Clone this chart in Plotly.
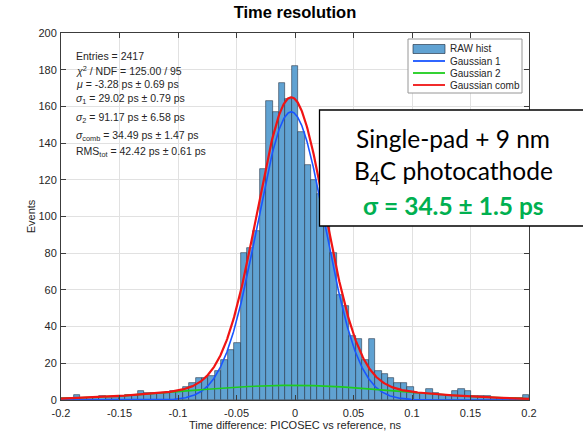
import numpy as np
import plotly.graph_objects as go

# ---------------- data ----------------
bin_lo, bin_hi = -0.2, 0.2
counts = [1, 1, 3, 1, 1, 1, 2, 1, 1, 2, 3, 3, 5, 4, 4, 4, 4, 5, 5, 7, 9,
          12, 12, 13, 16, 22, 27, 31, 80, 83, 92, 126, 163, 157, 173, 164,
          182,
          146, 128, 120, 112, 100, 80, 57, 51, 35, 33, 22, 33, 16, 14, 12, 9,
          9, 7, 4, 4, 6, 4, 3, 3, 5, 6, 5, 2, 2, 2, 1, 1, 1, 1, 1, 3]

# fit parameters (ns) read from the stats box / curve peaks
mu = -0.00328
sigma1 = 0.02902
sigma2 = 0.09117
amp1 = 157.0
amp2 = 8.0

x_tickvals = [-0.2, -0.15, -0.1, -0.05, 0, 0.05, 0.1, 0.15, 0.2]
x_ticktext = ["-0.2", "-0.15", "-0.1", "-0.05", "0", "0.05", "0.1", "0.15", "0.2"]
y_tickvals = [0, 20, 40, 60, 80, 100, 120, 140, 160, 180, 200]

stats_lines = [
    "Entries = 2417",
    "<i>χ</i><sup>2</sup> / NDF = 125.00 / 95",
    "<i>μ</i> = -3.28 ps ± 0.69 ps",
    "<i>σ</i><sub>1</sub> = 29.02 ps ± 0.79 ps",
    "<i>σ</i><sub>2</sub> = 91.17 ps ± 6.58 ps",
    "<i>σ</i><sub>comb</sub> = 34.49 ps ± 1.47 ps",
    "RMS<sub>tot</sub> = 42.42 ps ± 0.61 ps",
]
legend_names = ["RAW hist", "Gaussian 1", "Gaussian 2", "Gaussian comb"]
box_lines = ["Single-pad + 9 nm", "B<sub>4</sub>C photocathode", "<b>σ = 34.5 ± 1.5 ps</b>"]

# ---------------- derived ----------------
n_bins = len(counts)
edges = np.linspace(bin_lo, bin_hi, n_bins + 1)
centers = 0.5 * (edges[:-1] + edges[1:])
bin_width = (bin_hi - bin_lo) / n_bins

x_fit = np.linspace(bin_lo, bin_hi, 801)
g1 = amp1 * np.exp(-0.5 * ((x_fit - mu) / sigma1) ** 2)
g2 = amp2 * np.exp(-0.5 * ((x_fit - mu) / sigma2) ** 2)
gc = g1 + g2

# ---------------- styles ----------------
W, H = 583, 432
L, R, T, B = 61, 54, 33, 32
PW, PH = W - L - R, H - T - B
FONT = "Liberation Sans, Arial, Helvetica, sans-serif"
TXT = "rgb(38,38,38)"
BAR_FILL = "rgb(96,162,210)"
BAR_EDGE = "rgba(30,45,65,0.8)"
C_BLUE = "rgb(25,85,255)"
C_GREEN = "rgb(30,205,30)"
C_RED = "rgb(240,20,20)"
colors = [None, C_BLUE, C_GREEN, C_RED]


def px(xp):
    return (xp - L) / PW


def py(yp):
    return (H - B - yp) / PH


fig = go.Figure()
fig.add_trace(go.Bar(x=centers, y=counts, width=bin_width, name=legend_names[0],
                     marker=dict(color=BAR_FILL, line=dict(color=BAR_EDGE, width=0.7)),
                     showlegend=False))
fig.add_trace(go.Scatter(x=x_fit, y=g1, mode="lines", name=legend_names[1],
                         line=dict(color=C_BLUE, width=1.6), showlegend=False))
fig.add_trace(go.Scatter(x=x_fit, y=g2, mode="lines", name=legend_names[2],
                         line=dict(color=C_GREEN, width=1.6), showlegend=False))
fig.add_trace(go.Scatter(x=x_fit, y=gc, mode="lines", name=legend_names[3],
                         line=dict(color=C_RED, width=2.2), showlegend=False))

shapes = []
annotations = []

# stats text
stat_y = [55.7, 70.5, 83.5, 99.5, 118, 135.5, 151.5]
for s, yy in zip(stats_lines, stat_y):
    annotations.append(dict(x=px(74), y=py(yy), xref="paper", yref="paper",
                            text=s, showarrow=False, xanchor="left", yanchor="middle",
                            font=dict(family=FONT, size=10.5, color=TXT)))

# legend (drawn as shapes + text)
shapes.append(dict(type="rect", xref="paper", yref="paper",
                   x0=px(408), x1=px(522), y0=py(93), y1=py(39),
                   line=dict(color="rgb(150,150,150)", width=1), fillcolor="white",
                   layer="above"))
leg_y = [49, 61, 73, 85]
for i, (name, yy) in enumerate(zip(legend_names, leg_y)):
    if i == 0:
        shapes.append(dict(type="rect", xref="paper", yref="paper",
                           x0=px(413), x1=px(445), y0=py(53.5), y1=py(44.5),
                           line=dict(color=BAR_EDGE, width=0.8), fillcolor=BAR_FILL,
                           layer="above"))
    else:
        shapes.append(dict(type="line", xref="paper", yref="paper",
                           x0=px(413), x1=px(445), y0=py(yy), y1=py(yy),
                           line=dict(color=colors[i], width=1.8), layer="above"))
    annotations.append(dict(x=px(448), y=py(yy), xref="paper", yref="paper",
                            text=name, showarrow=False, xanchor="left", yanchor="middle",
                            font=dict(family=FONT, size=10, color=TXT)))

# callout box
shapes.append(dict(type="rect", xref="paper", yref="paper",
                   x0=px(319.5), x1=px(610), y0=py(226), y1=py(110),
                   line=dict(color="black", width=1.3), fillcolor="white", layer="above"))
box_y = [138, 172, 205]
box_col = ["black", "black", "rgb(0,176,80)"]
for s, yy, c in zip(box_lines, box_y, box_col):
    annotations.append(dict(x=px(453), y=py(yy), xref="paper", yref="paper",
                            text=s, showarrow=False, xanchor="center", yanchor="middle",
                            font=dict(family="Lato, Carlito, sans-serif", size=24.5, color=c)))

axis_common = dict(showline=True, linecolor="rgb(60,60,60)", linewidth=1,
                   mirror="ticks", ticks="inside", ticklen=5, tickcolor="rgb(60,60,60)",
                   showgrid=True, gridcolor="rgb(225,225,225)", gridwidth=1,
                   zeroline=False, automargin=False,
                   tickfont=dict(family=FONT, size=11, color=TXT))

fig.update_layout(
    width=W, height=H, autosize=False,
    margin=dict(l=L, r=R, t=T, b=B, pad=0),
    paper_bgcolor="white", plot_bgcolor="white",
    bargap=0,
    title=dict(text="<b>Time resolution</b>", x=0.5, xref="paper", xanchor="center",
               y=1 - 12 / H, yref="container", yanchor="middle",
               font=dict(family=FONT, size=16.5, color="black")),
    xaxis=dict(range=[bin_lo, bin_hi], tickvals=x_tickvals, ticktext=x_ticktext,
               ticklabelstandoff=3,
               title=dict(text="Time difference: PICOSEC vs reference, ns",
                          font=dict(family=FONT, size=11, color=TXT), standoff=3),
               **axis_common),
    yaxis=dict(range=[0, 200], tickvals=y_tickvals, ticklabelstandoff=1,
               title=dict(text="Events", font=dict(family=FONT, size=11, color=TXT),
                          standoff=0),
               **axis_common),
    shapes=shapes,
    annotations=annotations,
    showlegend=False,
)

fig.write_html("out.html")
